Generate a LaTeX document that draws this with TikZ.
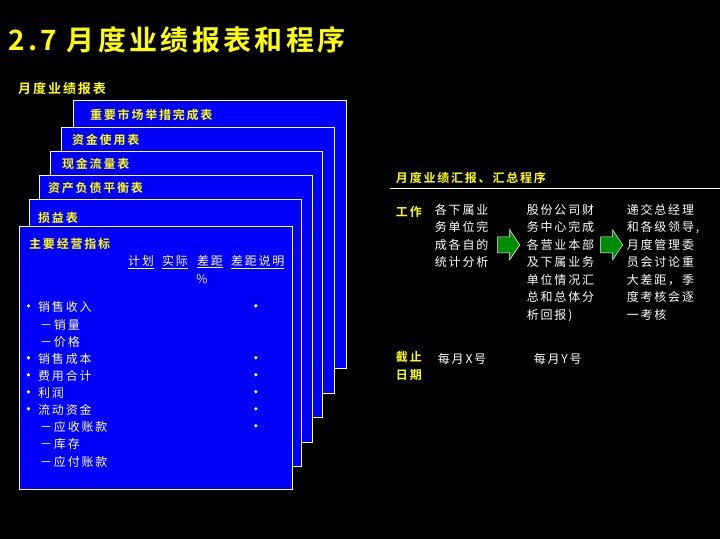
\documentclass[tikz,border=0pt]{standalone}
\usepackage{fontspec}
\newfontfamily\cjk[LetterSpace=15]{Noto Sans CJK SC}
\newfontfamily\cjkb[LetterSpace=15]{Noto Sans CJK SC Bold}
\newfontfamily\cjkt[LetterSpace=12]{Noto Sans CJK SC Bold}
\definecolor{bl}{RGB}{0,0,250}
\definecolor{yl}{RGB}{255,255,0}
\definecolor{gr}{RGB}{0,140,0}
\begin{document}
\begin{tikzpicture}[x=1pt,y=-1pt,
  sheet/.style={draw=white,fill=bl,line width=0.8pt},
  ttl/.style={anchor=west,text=yl,font=\cjkb\fontsize{12}{13}\selectfont,inner sep=0},
  wt/.style={anchor=west,text=white,font=\cjk\fontsize{12}{13}\selectfont,inner sep=0},
  col/.style={anchor=north west,text=white,font=\cjk\fontsize{12}{17.5}\selectfont,inner sep=0,align=left},
  garrow/.style={draw=white,fill=gr,line width=0.5pt}]
\fill[black] (0,0) rectangle (720,539);
\node[anchor=west,text=yl,font=\cjkt\fontsize{28}{30}\selectfont,inner sep=0] (title) at (8,40) {2.7 月度业绩报表和程序};
\node[ttl,font=\cjkb\fontsize{13}{13}\selectfont] (rep) at (18,89) {月度业绩报表};
\draw[sheet] (73,100) rectangle (347,369);
\node[ttl] (s1) at (90,115) {重要市场举措完成表};
\draw[sheet] (61,127) rectangle (335,394);
\node[ttl] (s2) at (72,140) {资金使用表};
\draw[sheet] (50,151) rectangle (323,418);
\node[ttl] (s3) at (62,164) {现金流量表};
\draw[sheet] (39,175) rectangle (313,443);
\node[ttl] (s4) at (48,188) {资产负债平衡表};
\draw[sheet] (29,200) rectangle (302,467);
\node[ttl] (s5) at (38,218) {损益表};
\draw[sheet] (19,227) rectangle (293,490);
\node[ttl] (s6) at (29,244) {主要经营指标};
\foreach \t/\x/\n in {计划/128/h1,实际/162/h2,差距/197/h3,差距说明/231/h4}
  \node[wt,anchor=west] (\n) at (\x,262) {\underline{\t}};
\node[wt,anchor=center] (pct) at (202,279) {\%};
\foreach \y/\t/\b/\n in {307/销售收入/1/r1,325/－销量/0/r2,342/－价格/0/r3,359/销售成本/1/r4,376/费用合计/1/r5,393/利润/1/r6,410/流动资金/1/r7,427/－应收账款/0/r8,444/－库存/0/r9,462/－应付账款/0/r10}{
  \ifnum\b=1
    \node[wt] (\n) at (38,\y) {\t};
    \fill[white] (28.5,\y-1) circle (1.8);
  \else
    \node[wt] (\n) at (40,\y) {\t};
  \fi}
\foreach \y in {307,359,376,393,410,427} \fill[white] (256,\y-1) circle (1.8);
% right side
\node[ttl] (proc) at (396,178) {月度业绩汇报、汇总程序};
\draw[white,line width=0.8pt] (390,188) -- (720,188);
\node[ttl] (work) at (396,212) {工作};
\node[col] (c1) at (435,204) {各下属业\\务单位完\\成各自的\\统计分析};
\node[col] (c2) at (527,204) {股份公司财\\务中心完成\\各营业本部\\及下属业务\\单位情况汇\\总和总体分\\析回报)};
\node[col] (c3) at (627,204) {递交总经理\\和各级领导,\\月度管理委\\员会讨论重\\大差距，季\\度考核会逐\\一考核};
\draw[garrow] (498,237) -- (510,237) -- (510,230) -- (520,245) -- (510,260) -- (510,253) -- (498,253) -- cycle;
\draw[garrow] (601,237) -- (613,237) -- (613,230) -- (623,245) -- (613,260) -- (613,253) -- (601,253) -- cycle;
\node[ttl,align=left,anchor=north west,font=\cjkb\fontsize{12}{18}\selectfont] (dl) at (396,351) {截止\\日期};
\node[wt] (dx) at (438,359) {每月X号};
\node[wt] (dy) at (534,359) {每月Y号};
\end{tikzpicture}
\end{document}
